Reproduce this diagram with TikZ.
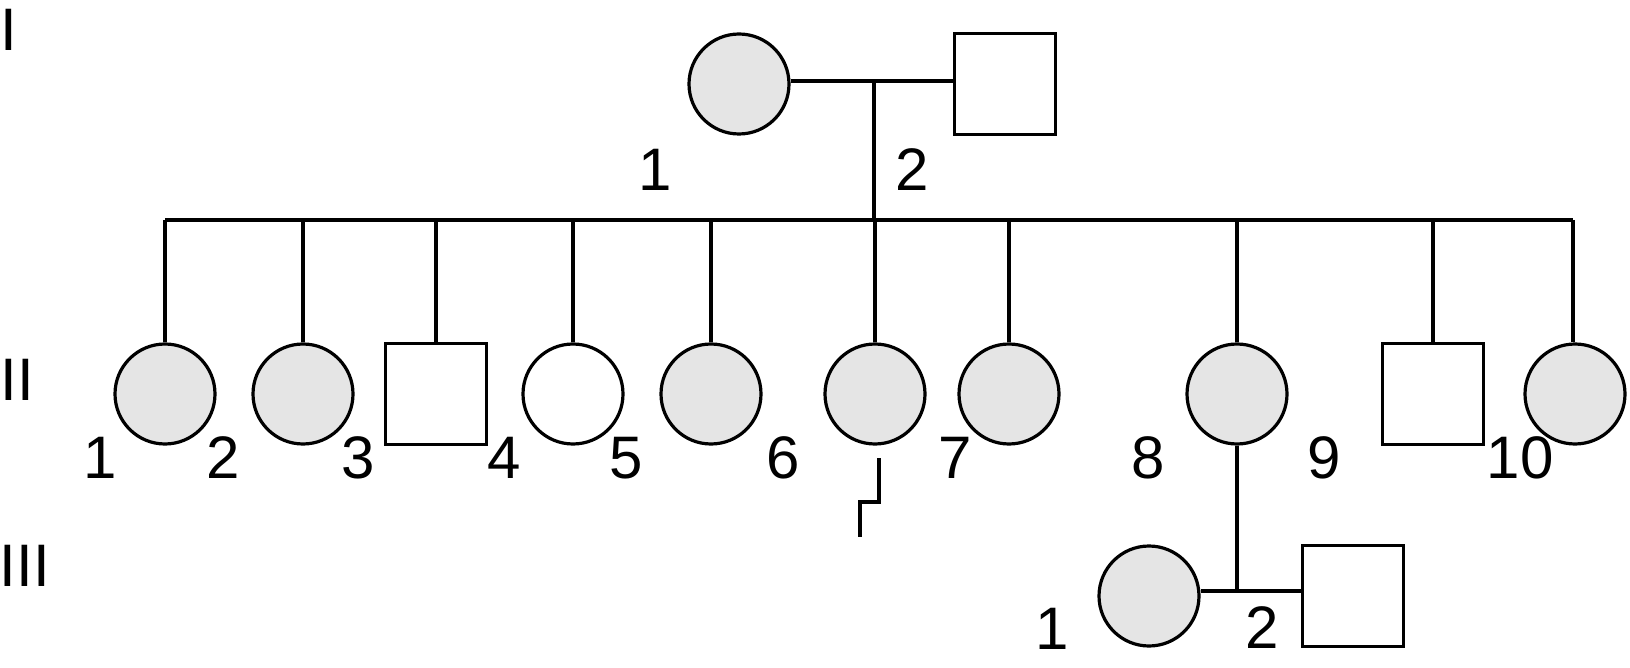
\documentclass[tikz,border=0pt]{standalone}
\usepackage{fontspec}
\setmainfont{Liberation Sans}
\begin{document}
\begin{tikzpicture}[x=1pt,y=-1pt,line width=3.2pt,
  fem/.style={circle,draw,line width=3.2pt,minimum size=100pt,inner sep=0pt,fill=gray!20},
  femun/.style={circle,draw,line width=3.2pt,minimum size=100pt,inner sep=0pt,fill=white},
  male/.style={rectangle,draw,line width=3.2pt,minimum size=101pt,inner sep=0pt,fill=white},
  lbl/.style={inner sep=0pt,font=\fontsize{60}{72}\selectfont}]
\useasboundingbox (0,0) rectangle (1630,668);
% generation labels
\node[lbl] (gI) at (9,30) {I};
\node[lbl] (gII) at (17,380) {II};
\node[lbl] (gIII) at (25,566) {III};
% generation I
\node[fem] (I1) at (739,84) {};
\node[male] (I2) at (1005,84) {};
\node[lbl] (lI1) at (655,170) {1};
\node[lbl] (lI2) at (912,170) {2};
\coordinate (m1) at (874,81);
\coordinate (s1) at (874,220);
% generation II
\node[fem] (II1) at (165,394) {};
\node[fem] (II2) at (303,394) {};
\node[male] (II3) at (436,394) {};
\node[femun] (II4) at (573,394) {};
\node[fem] (II5) at (711,394) {};
\node[fem] (II6) at (875,394) {};
\node[fem] (II7) at (1009,394) {};
\node[fem] (II8) at (1237,394) {};
\node[male] (II9) at (1433,394) {};
\node[fem] (II10) at (1575,394) {};
\coordinate (sL) at (165,220);
\coordinate (sR) at (1573,220);
\foreach \n/\x in {1/100,2/223,3/358,4/504,5/626,6/783,7/955,8/1148,9/1324,10/1520}
  \node[lbl] (lII\n) at (\x,458) {\n};
% generation III
\node[fem] (III1) at (1149,596) {};
\node[male] (III2) at (1353,596) {};
\coordinate (m3) at (1237,591);
\node[lbl] (lIII1) at (1052,629) {1};
\node[lbl] (lIII2) at (1262,628) {2};
% connectors
\draw (I1.east |- m1) -- (I2.west |- m1);
\draw (m1) -- (s1);
\draw (sL) -- (sR);
\foreach \n in {1,...,9}
  \draw (II\n.north |- s1) -- (II\n.north);
\draw (sR) -- (sR |- II10.north);
\draw (II8.south) -- (m3);
\draw (III1.east |- m3) -- (III2.west |- m3);
% bracket under II-6
\coordinate (b1) at (879,458);
\coordinate (b2) at (879,502);
\coordinate (b3) at (860,502);
\coordinate (b4) at (860,537);
\draw (b1) -- (b2) -- (b3) -- (b4);
\end{tikzpicture}
\end{document}
